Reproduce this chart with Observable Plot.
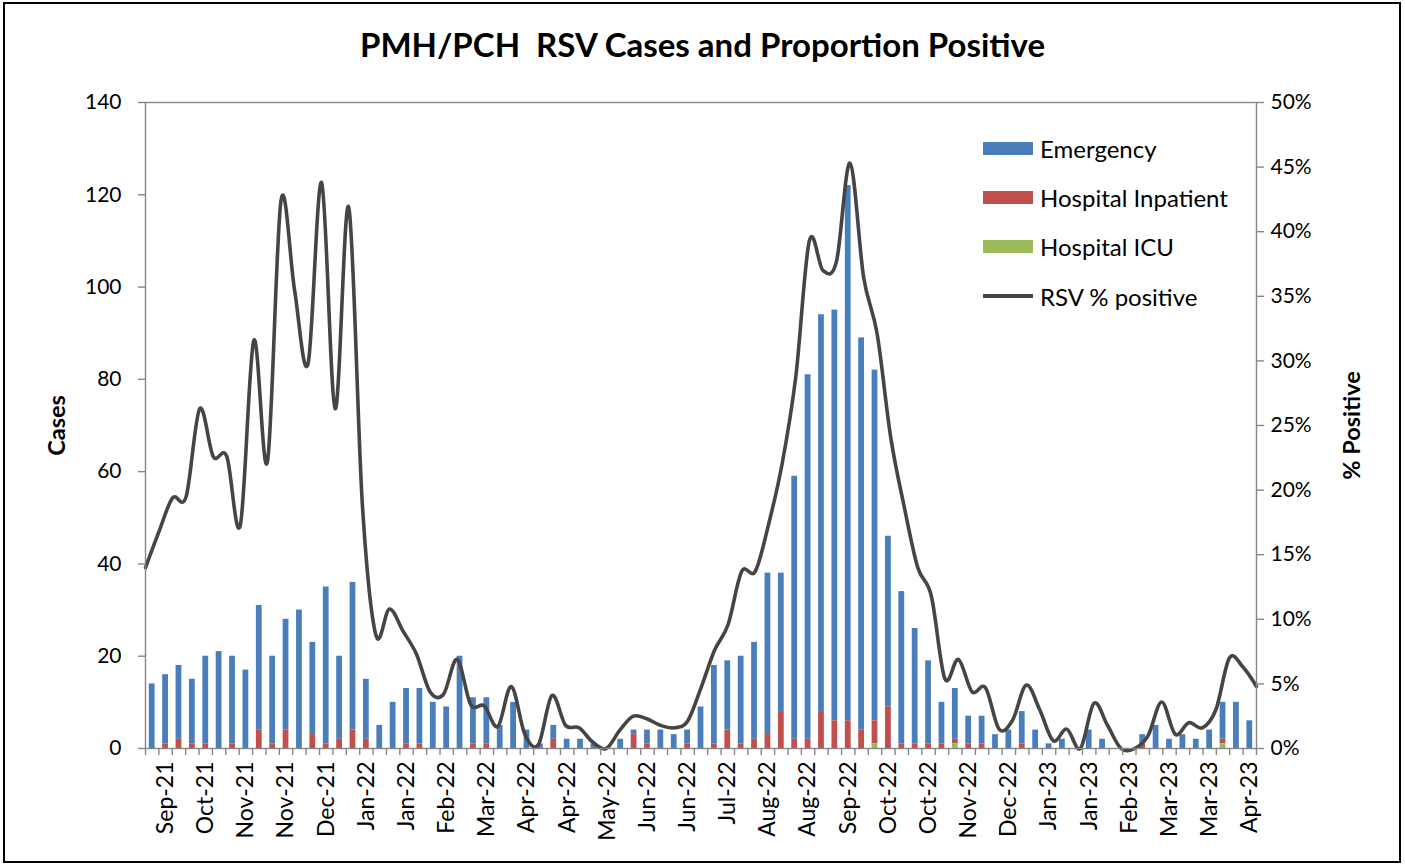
<!DOCTYPE html>
<html>
<head>
<meta charset="utf-8">
<script src="https://cdn.jsdelivr.net/npm/d3@7"></script>
<script src="https://cdn.jsdelivr.net/npm/@observablehq/plot@0.6"></script>
<style>
  body { margin: 0; background: #fff; font-family: Lato, "Open Sans", sans-serif; }
  #wrap { position: relative; width: 1405px; height: 865px; overflow: hidden; background: #fff; }
  #border { position: absolute; left: 3px; top: 2px; width: 1398px; height: 861px; border: 2.5px solid #000; box-sizing: border-box; pointer-events: none; }
  #title { position: absolute; left: 0; top: 24px; width: 1405px; text-align: center; font-weight: bold; font-size: 33px; color: #000; }
  #chart { position: absolute; left: 0; top: 0; }
  .lg { position: absolute; left: 983px; height: 30px; display: flex; align-items: center; font-size: 24px; color: #000; white-space: nowrap; }
  .sw { width: 50px; height: 13px; margin-right: 7px; }
  .ln { width: 50px; height: 3.5px; margin-right: 7px; }
</style>
</head>
<body>
<div id="wrap">
  <div id="chart"></div>
  <div id="title"></div>
  <div id="legend"></div>
  <div id="border"></div>
</div>
<script>
// ---- data ----
const title = "PMH/PCH\u00a0 RSV Cases and Proportion Positive";
const seriesNames = ["Emergency", "Hospital Inpatient", "Hospital ICU"];
const seriesColors = ["#4a7ebb", "#c0504d", "#9bbb59"];
const lineName = "RSV % positive";
const lineColor = "#454545";

// weekly counts (83 weeks, late Aug 2021 – Apr 2023)
const emergency = [
  14,15,16,14,19,21,19,17,27,19,
  24,30,20,34,18,32,13,5,10,12,
  12,10,9,20,10,10,5,10,4,1,
  3,2,2,1,0,2,1,3,4,3,
  3,9,17,15,19,21,35,30,57,79,
  86,89,116,85,76,37,33,25,18,9,
  11,6,6,3,4,7,4,1,2,0,
  4,2,0,0,2,5,2,3,2,4,
  8,10,6
];
const inpatient = [
  0,1,2,1,1,0,1,0,4,1,
  4,0,3,1,2,4,2,0,0,1,
  1,0,0,0,1,1,0,0,0,0,
  2,0,0,0,0,0,3,1,0,0,
  1,0,1,4,1,2,3,8,2,2,
  8,6,6,4,5,9,1,1,1,1,
  1,1,1,0,0,1,0,0,0,0,
  0,0,0,0,1,0,0,0,0,0,
  1,0,0
];
const icu = [
  0,0,0,0,0,0,0,0,0,0,
  0,0,0,0,0,0,0,0,0,0,
  0,0,0,0,0,0,0,0,0,0,
  0,0,0,0,0,0,0,0,0,0,
  0,0,0,0,0,0,0,0,0,0,
  0,0,0,0,1,0,0,0,0,0,
  1,0,0,0,0,0,0,0,0,0,
  0,0,0,0,0,0,0,0,0,0,
  1,0,0
];
// RSV % positive (one value per week, drawn on its own axis spanning edge to edge)
const pctPositive = [
  14.0,16.8,19.4,19.5,26.3,22.6,22.6,17.3,31.6,22.2,
  42.4,35.5,29.8,43.8,26.3,41.9,19.0,8.8,10.8,9.1,
  7.3,4.4,4.2,6.9,3.4,3.3,1.7,4.8,1.1,0.3,
  4.1,1.8,1.6,0.5,0.0,1.4,2.5,2.3,1.8,1.6,
  2.1,4.7,7.6,9.6,13.7,13.7,17.4,22.1,28.8,39.3,
  37.0,37.7,45.3,36.5,32.1,24.1,18.7,14.0,11.8,5.4,
  6.9,4.4,4.7,1.5,2.2,4.9,3.0,0.6,1.5,0.0,
  3.5,1.8,0.0,0.0,1.0,3.6,1.1,2.0,1.6,3.0,
  7.0,6.3,4.8
];
// tick labels, one every third week starting with week 2
const tickLabels = [
  "Sep-21","Oct-21","Nov-21","Nov-21","Dec-21","Jan-22","Jan-22","Feb-22","Mar-22","Apr-22",
  "Apr-22","May-22","Jun-22","Jun-22","Jul-22","Aug-22","Aug-22","Sep-22","Oct-22","Oct-22",
  "Nov-22","Dec-22","Jan-23","Jan-23","Feb-23","Mar-23","Mar-23","Apr-23"
];
const casesTicks = [0, 20, 40, 60, 80, 100, 120, 140];
const pctTicks = [0, 5, 10, 15, 20, 25, 30, 35, 40, 45, 50];
const casesMax = 140, pctMax = 50;

// ---- build tables ----
const nWeeks = emergency.length;
const k = casesMax / pctMax; // map % onto the cases scale
const stackOrder = ["Hospital ICU", "Hospital Inpatient", "Emergency"];
const seriesValues = {"Emergency": emergency, "Hospital Inpatient": inpatient, "Hospital ICU": icu};
const bars = [];
for (let i = 0; i < nWeeks; i++) {
  for (const s of seriesNames) bars.push({week: i, series: s, value: seriesValues[s][i]});
}
// the % line sits on a secondary category axis whose points run from the left axis to the right axis
const lineData = pctPositive.map((p, j) => ({x: j * nWeeks / (pctPositive.length - 1), y: p * k}));
const labelPos = tickLabels.map((_, j) => 3 * j + 1 + 0.5);
const labelMap = new Map(labelPos.map((p, j) => [p, tickLabels[j]]));

const axisGray = "#878787";

const chart = Plot.plot({
  width: 1405,
  height: 865,
  marginLeft: 145,
  marginRight: 149,
  marginTop: 102,
  marginBottom: 117,
  style: {fontFamily: "Lato, 'Open Sans', sans-serif", fontSize: "21px", color: "#000", background: "transparent", overflow: "visible"},
  x: {type: "linear", domain: [0, nWeeks]},
  y: {domain: [0, casesMax]},
  color: {domain: seriesNames, range: seriesColors},
  marks: [
    Plot.rectY(bars, {x: "week", interval: 1, y: "value", fill: "series", order: stackOrder, insetLeft: 3.8, insetRight: 3.8}),
    Plot.line(lineData, {x: "x", y: "y", curve: "cardinal", stroke: lineColor, strokeWidth: 3.6}),
    Plot.frame({stroke: axisGray, strokeWidth: 1.4}),
    Plot.axisY(casesTicks, {anchor: "left", tickSize: 7, tickPadding: 17, stroke: axisGray, strokeWidth: 1.4, fill: "#000", label: null}),
    Plot.axisY(pctTicks.map(p => p * k), {anchor: "right", tickSize: 7, tickPadding: 7, stroke: axisGray, strokeWidth: 1.4, fill: "#000", tickFormat: d => `${Math.round(d / k)}%`, label: null}),
    Plot.axisX(d3.range(0, nWeeks + 1), {anchor: "bottom", tickSize: 7, stroke: axisGray, strokeWidth: 1.4, tickFormat: () => "", label: null}),
    Plot.axisX(labelPos, {anchor: "bottom", tickSize: 0, tickPadding: 13, tickRotate: -90, fontSize: 23, fill: "#000", tickFormat: d => labelMap.get(d), label: null}),
    Plot.text(["Cases"], {text: d => d, frameAnchor: "left", dx: -88, rotate: -90, textAnchor: "middle", fontWeight: "bold", fontSize: 23.5, fill: "#000"}),
    Plot.text(["% Positive"], {text: d => d, frameAnchor: "right", dx: 96, rotate: -90, textAnchor: "middle", fontWeight: "bold", fontSize: 23.5, fill: "#000"})
  ]
});
document.getElementById("chart").appendChild(chart);
document.getElementById("title").textContent = title;

// legend (inside plot area, top right)
const legend = document.getElementById("legend");
const rowsY = [148, 197, 246, 296];
seriesNames.forEach((s, i) => {
  const row = document.createElement("div");
  row.className = "lg";
  row.style.top = (rowsY[i] - 15) + "px";
  row.innerHTML = `<div class="sw" style="background:${seriesColors[i]}"></div><span>${s}</span>`;
  legend.appendChild(row);
});
const lrow = document.createElement("div");
lrow.className = "lg";
lrow.style.top = (rowsY[3] - 15) + "px";
lrow.innerHTML = `<div class="ln" style="background:${lineColor}"></div><span>${lineName}</span>`;
legend.appendChild(lrow);
</script>
</body>
</html>
